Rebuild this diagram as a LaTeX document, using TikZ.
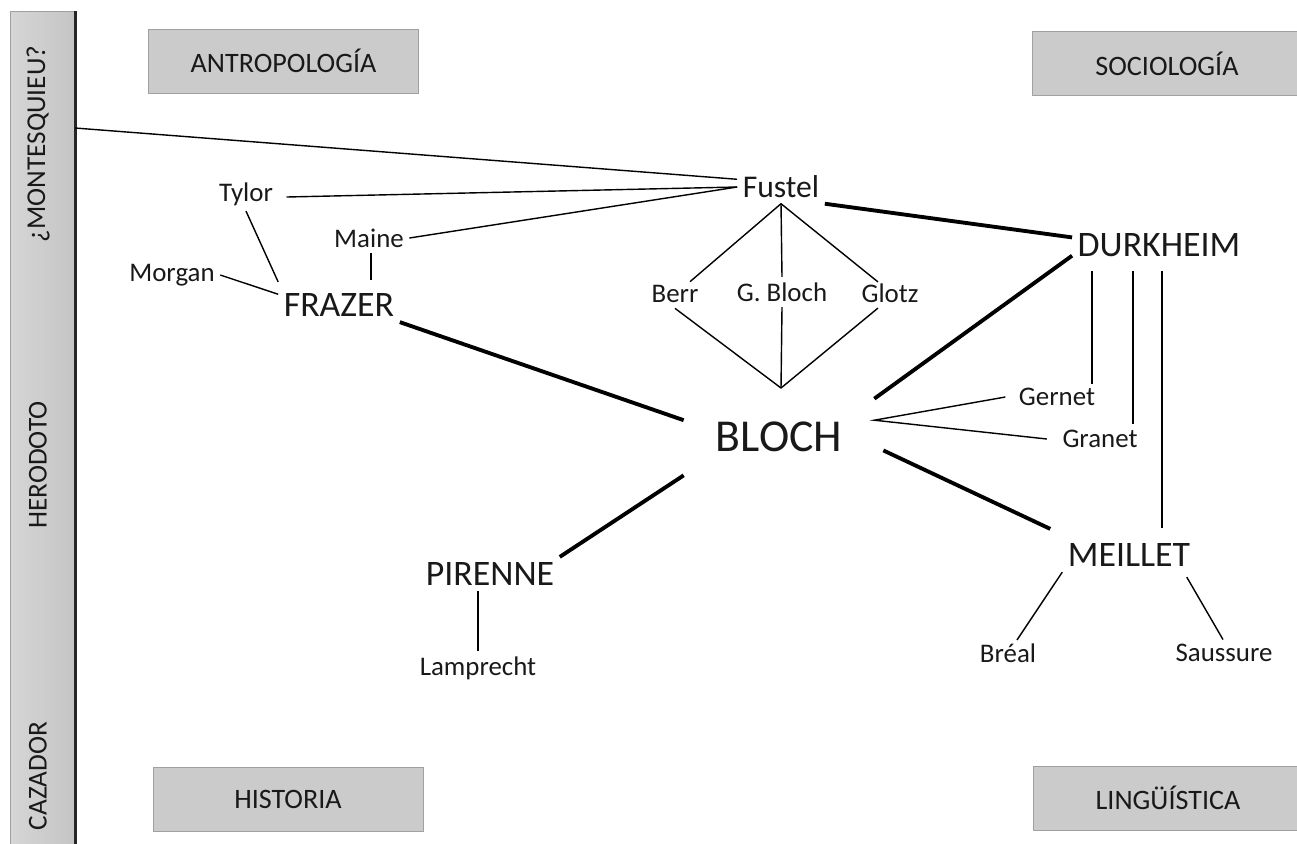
\documentclass[tikz,border=0pt]{standalone}
\usepackage{fontspec}
\setmainfont{Carlito}
\usepackage{tikz}
\usetikzlibrary{calc,positioning}
\definecolor{boxfill}{RGB}{203,203,203}
\definecolor{boxline}{RGB}{160,160,160}
\definecolor{barlight}{RGB}{214,214,214}
\definecolor{bardark}{RGB}{196,196,196}
\definecolor{inkcolor}{RGB}{25,25,25}

\begin{document}
\begin{tikzpicture}[x=0.02cm, y=-0.02cm,
    every node/.style={text=inkcolor, inner sep=3pt},
    minor/.style={font=\fontsize{15.3}{18}\selectfont},
    mentor/.style={font=\fontsize{18}{21}\selectfont},
    major/.style={font=\fontsize{20.4}{24}\selectfont},
    hub/.style={font=\fontsize{26}{30}\selectfont, minimum width=3.8cm, minimum height=1.52cm},
    catbox/.style={draw=boxline, fill=boxfill,
        minimum width=5.4cm, minimum height=1.28cm, font=\fontsize{16}{19}\selectfont},
    weakline/.style={line width=0.8pt},
    strongline/.style={line width=2.2pt}]
        \useasboundingbox (0,0) rectangle (1297,843);
        \clip (0,0) rectangle (1297,843);

        % side bar
        \node[draw=boxline, left color=barlight, right color=bardark, inner sep=0,
            minimum width=1.3cm, minimum height=17cm, anchor=north west] (bar) at (10,11) {};
        \draw[line width=1.4pt, black!85] (bar.north east) -- (bar.south east);
        \node[rotate=90, font=\fontsize{15.5}{18}\selectfont] (montesquieu) at (38,144) {¿MONTESQUIEU?};
        \node[rotate=90, font=\fontsize{15.5}{18}\selectfont] (herodoto) at (38,465) {HERODOTO};
        \node[rotate=90, font=\fontsize{15.5}{18}\selectfont] (cazador) at (38,776) {CAZADOR};
        \coordinate (mq) at (75,128);

        % disciplines
        \node[catbox] (antro) at (283.5,61) {ANTROPOLOGÍA};
        \node[catbox] (socio) at (1167,63.5) {SOCIOLOGÍA};
        \node[catbox] (historia) at (288,799) {HISTORIA};
        \node[catbox] (lingu) at (1168,798) {LINGÜÍSTICA};

        % people
        \node[minor] (tylor) at (246,194) {Tylor};
        \node[minor] (morgan) at (172,275) {Morgan};
        \node[minor] (maine) at (369,238) {Maine};
        \node[major] (frazer) at (339,305) {FRAZER};
        \node[mentor] (fustel) at (781,187) {Fustel};
        \node[minor] (berr) at (675,294) {Berr};
        \node[minor] (gbloch) at (782,292) {G. Bloch};
        \node[minor] (glotz) at (890,293) {Glotz};
        \node[major] (durkheim) at (1159,245) {DURKHEIM};
        \node[hub] (bloch) at (779,437) {BLOCH};
        \node[minor] (gernet) at (1057,397) {Gernet};
        \node[minor] (granet) at (1100,439) {Granet};
        \node[major] (meillet) at (1129,555) {MEILLET};
        \node[minor] (breal) at (1008,653) {Bréal};
        \node[minor] (saussure) at (1224,653) {Saussure};
        \node[major] (pirenne) at (490,574) {PIRENNE};
        \node[minor] (lamprecht) at (478,668) {Lamprecht};
        \coordinate (tip) at (781,388);

        % thin links
        \draw[weakline] (mq) -- (fustel.170);
        \draw[weakline] ($(tylor.east)+(8,3)$) -- (fustel.west);
        \draw[weakline] (maine.east) -- (fustel.west);
        \draw[weakline] (tylor.south) -- ($(frazer.north west)+(0,-6)$);
        \draw[weakline] (morgan.east) -- (frazer.170);
        \draw[weakline] ($(maine.south)+(2,0)$) -- ($(maine.south |- frazer.north)+(2,-8)$);

        \draw[weakline] (fustel.south) -- ($(berr.north)+(15,2)$);
        \draw[weakline] (fustel.south) -- (gbloch.north);
        \draw[weakline] (fustel.south) -- ($(glotz.north)+(-12,4)$);
        \draw[weakline] (berr.south) -- (tip);
        \draw[weakline] (gbloch.south) -- (tip);
        \draw[weakline] ($(glotz.south)+(-12,0)$) -- (tip);

        \draw[weakline] ($(gernet.west)+(-8,0)$) -- (bloch.10) -- ($(granet.west)+(-10,0)$);
        \draw[weakline] ($(durkheim.south)+(-67,9)$) -- ($(gernet.north)+(35,1)$);
        \draw[weakline] ($(durkheim.south)+(-26,9)$) -- ($(granet.north)+(33,-1)$);
        \draw[weakline] ($(durkheim.south)+(3,9)$) -- ($(meillet.north)+(33,-10)$);

        \draw[weakline] (meillet.south west) -- ($(breal.north)+(9,2)$);
        \draw[weakline] ($(meillet.south east)+(-9,5)$) -- ($(saussure.north)+(-1,1)$);
        \draw[weakline] (lamprecht.north |- pirenne.south) -- (lamprecht.north);

        % thick links
        \draw[strongline] (fustel.south east) -- (durkheim.175);
        \draw[strongline] (frazer.south east) -- (bloch.170);
        \draw[strongline] (durkheim.187) -- (bloch.north east);
        \draw[strongline] ($(bloch.352)+(9,0)$) -- ($(meillet.north west)+(-12,-9)$);
        \draw[strongline] (bloch.south west) -- (pirenne.north east);
    \end{tikzpicture}
\end{document}
